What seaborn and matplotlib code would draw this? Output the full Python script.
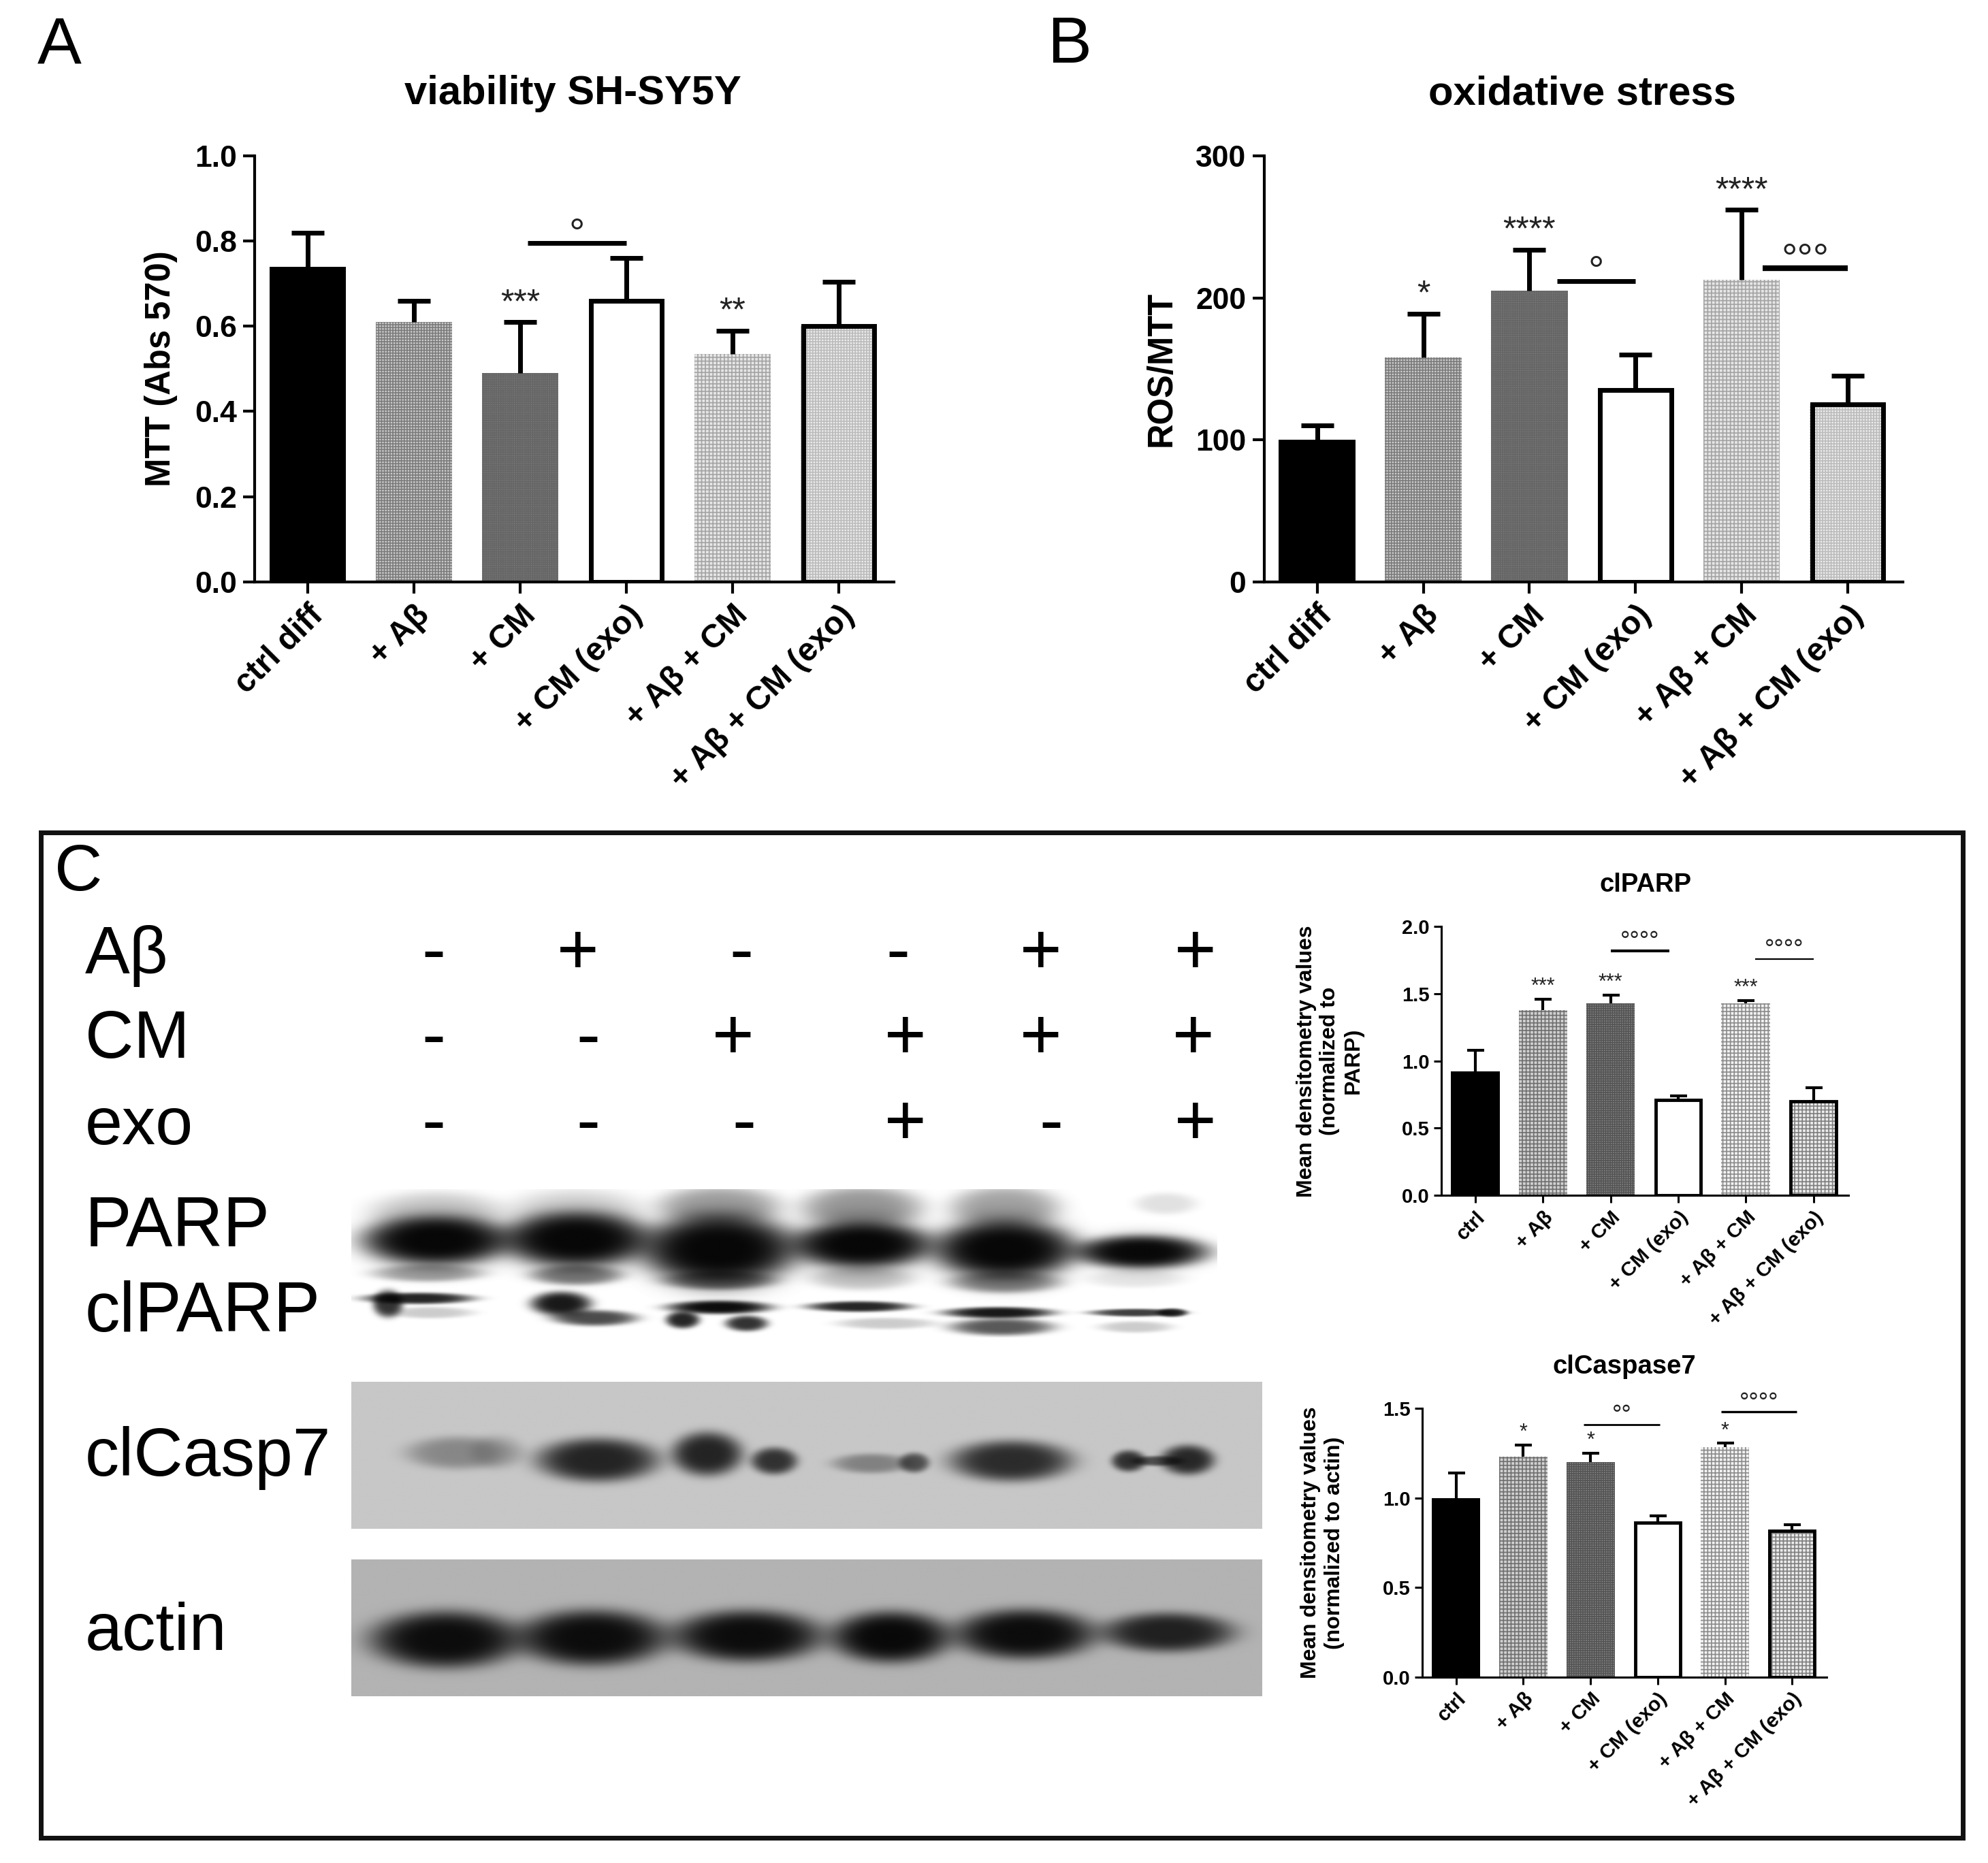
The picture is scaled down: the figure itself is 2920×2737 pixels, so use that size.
import numpy as np
import pandas as pd
import matplotlib
matplotlib.use("Agg")
import matplotlib.pyplot as plt
from matplotlib.patches import Rectangle
from matplotlib.lines import Line2D
from matplotlib.transforms import ScaledTranslation
import seaborn as sns

# Bar data
LABELS_DIFF = ["ctrl diff", "+ Aβ", "+ CM", "+ CM (exo)", "+ Aβ + CM", "+ Aβ + CM (exo)"]
LABELS_CTRL = ["ctrl", "+ Aβ", "+ CM", "+ CM (exo)", "+ Aβ + CM", "+ Aβ + CM (exo)"]

MTT_MEAN = [0.74, 0.61, 0.49, 0.66, 0.535, 0.60]
MTT_TOP = [0.82, 0.66, 0.61, 0.76, 0.59, 0.705]
MTT_STARS = ["", "", "***", "", "**", ""]

ROS_MEAN = [100, 158, 205, 135, 213, 125]
ROS_TOP = [110, 189, 234, 160, 262, 145]
ROS_STARS = ["", "*", "****", "", "****", ""]

PARP_MEAN = [0.92, 1.38, 1.43, 0.71, 1.43, 0.70]
PARP_TOP = [1.08, 1.46, 1.49, 0.74, 1.45, 0.80]
PARP_STARS = ["", "***", "***", "", "***", ""]

CASP_MEAN = [1.0, 1.23, 1.20, 0.86, 1.285, 0.815]
CASP_TOP = [1.14, 1.295, 1.25, 0.90, 1.305, 0.85]
CASP_STARS = ["", "*", "*", "", "*", ""]

# Blot bands: x, y, half width, half height, darkness (in blot pixels of the crop)
PARP_BLOT = [
    (140, 143, 118, 66, .96), (370, 140, 118, 74, .96), (605, 168, 124, 94, .96),
    (840, 155, 112, 62, .96), (1075, 168, 114, 78, .96), (1300, 175, 108, 46, .96),
    (140, 143, 125, 95, .30), (370, 140, 125, 105, .30), (605, 168, 130, 125, .30),
    (840, 155, 120, 95, .30), (1075, 168, 120, 110, .30), (1300, 175, 112, 65, .15),
    (140, 60, 110, 55, .18), (370, 50, 110, 55, .12), (605, 45, 100, 55, .35),
    (840, 50, 100, 60, .40), (1075, 50, 90, 60, .35), (1340, 40, 50, 30, .12),
    (125, 235, 90, 24, .35), (370, 240, 75, 28, .50), (605, 255, 90, 26, .50),
    (840, 250, 85, 32, .20), (1075, 260, 90, 30, .45), (1290, 250, 80, 25, .10),
    (110, 305, 90, 16, .85), (60, 320, 25, 38, .80), (130, 345, 70, 16, .20),
    (345, 320, 50, 34, .90), (400, 360, 70, 22, .70), (605, 330, 85, 19, .95),
    (545, 365, 28, 24, .85), (650, 375, 35, 22, .80), (835, 328, 85, 15, .85),
    (880, 375, 80, 16, .20), (1065, 345, 90, 16, .90), (1070, 385, 85, 24, .65),
    (1290, 345, 75, 11, .75), (1350, 345, 25, 12, .80), (1290, 385, 60, 16, .20),
]
CASP_BLOT = [
    (175, 202, 84, 46, .32), (240, 200, 44, 48, .15), (405, 222, 100, 62, .82),
    (585, 205, 58, 62, .82), (695, 225, 38, 38, .75), (855, 232, 64, 28, .35),
    (925, 230, 25, 28, .60), (1085, 225, 100, 58, .78), (1278, 225, 28, 30, .75),
    (1375, 222, 44, 42, .80), (1325, 225, 42, 14, .60),
]
ACTIN_BLOT = [
    (155, 225, 124, 80, .93), (395, 220, 124, 78, .93), (650, 215, 124, 72, .93),
    (885, 218, 98, 72, .95), (1105, 210, 116, 70, .93), (1340, 205, 108, 55, .82),
]

# +/- table over the blot
ROW_NAMES = ["Aβ", "CM", "exo"]
SIGNS = [["-", "+", "-", "-", "+", "+"],
         ["-", "-", "+", "+", "+", "+"],
         ["-", "-", "-", "+", "-", "+"]]

# Bar looks: fill, hatch, hatch colour, black outline
BAR_FILL = ["#000000", "#cccccc", "#858585", "#ffffff", "#e6e6e6", "#ececec"]
BAR_HATCH = ["", "++++", "++++++", "", "+++", "++++"]
BAR_HATCH_COLOR = ["#000000", "#7c7c7c", "#666666", "#ffffff", "#a4a4a4", "#bcbcbc"]
BAR_OUTLINE = [False, False, False, True, False, True]

SMALL_FILL = ["#000000", "#d0d0d0", "#8a8a8a", "#ffffff", "#f2f2f2", "#ebebeb"]
SMALL_HATCH = ["", "+++", "+++++", "", "+++", "+++"]
SMALL_HATCH_COLOR = ["#000000", "#707070", "#555555", "#ffffff", "#8c8c8c", "#808080"]

W, H = 2920, 2737
SCALE = 2920 / 1568  # layout numbers below are in the 1568 wide preview


def fx(v):
    return v * SCALE / W


def fy(v):
    return 1 - v * SCALE / H


def bar_panel(fig, box, labels, mean, top, stars, ymax, yticks, ytick_fmt, title, ylabel, brackets, sz, looks):
    left, right, ytop, ybot = box
    fills, hatches, hatch_colors = looks
    ax = fig.add_axes([fx(left), fy(ybot), fx(right) - fx(left), fy(ytop) - fy(ybot)])
    df = pd.DataFrame({"group": labels, "value": mean})
    sns.barplot(data=df, x="group", y="value", hue="group", palette=fills, saturation=1,
                width=0.72, errorbar=None, legend=False, ax=ax)
    centers = np.arange(len(labels))
    for i, p in enumerate(ax.patches[:len(labels)]):
        p.set_linewidth(0)
        p.set_edgecolor(hatch_colors[i])
        p.set_hatch(hatches[i])
        if BAR_OUTLINE[i]:
            # keep the stroke inside the bar width
            ax.add_patch(Rectangle((p.get_x() + 0.025, p.get_y()), p.get_width() - 0.05, p.get_height(),
                                   fill=False, ec="black", lw=sz["bar_lw"], zorder=3, joinstyle="miter"))
    mean_arr, top_arr = np.array(mean), np.array(top)
    err = ax.errorbar(centers, mean_arr, yerr=[np.zeros(len(mean)), top_arr - mean_arr], fmt="none",
                      ecolor="black", elinewidth=sz["err_lw"], capsize=sz["cap"], capthick=sz["err_lw"], zorder=2)
    err[1][0].set_visible(False)  # only the upper whisker has a cap
    for i, s in enumerate(stars):
        if s:
            ax.text(i, top[i] + ymax * sz["star_gap"], s, ha="center", va="center",
                    fontsize=sz["star"], color="#222222")
    for x0, x1, y, mark, lw in brackets:
        ax.add_line(Line2D([x0, x1], [y, y], color="black", lw=lw, solid_capstyle="butt"))
        ax.text((x0 + x1) / 2, y + ymax * sz["ring_gap"], mark, ha="center", va="center",
                fontsize=sz["ring"], color="#222222")
    ax.set_xlim(-0.5, 5.52)
    ax.set_ylim(0, ymax)
    ax.set_yticks(yticks)
    ax.set_yticklabels([ytick_fmt.format(t) for t in yticks], fontsize=sz["ytick"], fontweight="bold")
    ax.set_xticks(centers)
    ax.set_xticklabels(labels, rotation=45, ha="right", rotation_mode="anchor",
                       fontsize=sz["xtick"], fontweight="bold")
    shift = ScaledTranslation(sz["xtick_dx"] * SCALE / 100, 0, fig.dpi_scale_trans)
    for lab in ax.get_xticklabels():
        lab.set_transform(lab.get_transform() + shift)
    ax.set_xlabel("")
    ax.set_ylabel(ylabel, fontsize=sz["ylabel"], fontweight="bold", labelpad=sz["ypad"])
    ax.tick_params(length=sz["tick"], width=sz["axis_lw"], pad=sz["pad"])
    sns.despine(ax=ax)
    for side in ["left", "bottom"]:
        ax.spines[side].set_linewidth(sz["axis_lw"])
    fig.text(fx(sz["title_x"]), fy(sz["title_y"]), title, ha="center", va="center",
             fontsize=sz["title"], fontweight="bold")
    return ax


def draw_blot(fig, box, size, bands, bg):
    left, right, top, bottom = box
    ax = fig.add_axes([fx(left), fy(bottom), fx(right) - fx(left), fy(top) - fy(bottom)])
    xx, yy = np.meshgrid(np.arange(size[0]), np.arange(size[1]))
    img = np.full(xx.shape, bg, dtype=float)
    for cx, cy, wx, wy, amp in bands:
        d = ((xx - cx) / wx) ** 2 + ((yy - cy) / wy) ** 2
        img *= 1 - amp * np.exp(-d ** 2.2)
    ax.imshow(img, cmap="gray", vmin=0, vmax=1, aspect="auto", interpolation="bilinear")
    ax.axis("off")


def main():
    sns.set_theme(style="ticks", rc={"text.color": "black", "axes.labelcolor": "black",
                                     "xtick.color": "black", "ytick.color": "black",
                                     "axes.edgecolor": "black"})
    plt.rcParams["font.family"] = ["Liberation Sans", "DejaVu Sans"]
    plt.rcParams["hatch.linewidth"] = 1.2

    fig = plt.figure(figsize=(W / 100, H / 100), dpi=100, facecolor="white")

    big = dict(bar_lw=5, err_lw=5, cap=17, star=36, star_gap=0.043, ring=42, ring_gap=0.018,
               ytick=32, xtick=34.5, xtick_dx=-8, ylabel=36.5, ypad=18, tick=12, axis_lw=3, pad=7, title=43)
    small_p = dict(bar_lw=3.5, err_lw=3, cap=9, star=22, star_gap=0.045, ring=26, ring_gap=0.03,
                   ytick=21, xtick=21.5, xtick_dx=-2, ylabel=23, ypad=40, tick=8, axis_lw=2.2, pad=5, title=27.5)
    big_look = (BAR_FILL, BAR_HATCH, BAR_HATCH_COLOR)
    small_look = (SMALL_FILL, SMALL_HATCH, SMALL_HATCH_COLOR)

    bar_panel(fig, (201, 705, 123, 459), LABELS_DIFF, MTT_MEAN, MTT_TOP, MTT_STARS, 1.0,
              [0, .2, .4, .6, .8, 1.0], "{:.1f}", "viability SH-SY5Y", "MTT (Abs 570)",
              [(2.07, 3.0, 0.795, "°", 5)], dict(big, title_x=452, title_y=74), big_look)
    bar_panel(fig, (997, 1501, 123, 459), LABELS_DIFF, ROS_MEAN, ROS_TOP, ROS_STARS, 300,
              [0, 100, 200, 300], "{:.0f}", "oxidative stress", "ROS/MTT",
              [(2.26, 3.0, 212, "°", 5), (4.2, 5.0, 221, "°°°", 6)], dict(big, title_x=1248, title_y=74), big_look)

    # panel C frame
    fig.add_artist(Rectangle((fx(32), fy(1450)), fx(1548) - fx(32), fy(657) - fy(1450), fill=False,
                             ec="#111111", lw=5, transform=fig.transFigure))

    bar_panel(fig, (1137, 1458, 731, 943), LABELS_CTRL, PARP_MEAN, PARP_TOP, PARP_STARS, 2.0,
              [0, .5, 1.0, 1.5, 2.0], "{:.1f}", "clPARP", "Mean densitometry values\n(normalized to\nPARP)",
              [(2.0, 2.87, 1.82, "°°°°", 3), (4.14, 5.0, 1.76, "°°°°", 1.6)],
              dict(small_p, title_x=1298, title_y=698), small_look)
    bar_panel(fig, (1122, 1441, 1111, 1323), LABELS_CTRL, CASP_MEAN, CASP_TOP, CASP_STARS, 1.5,
              [0, .5, 1.0, 1.5], "{:.1f}", "clCaspase7", "Mean densitometry values\n(normalized to actin)",
              [(1.9, 3.03, 1.41, "°°", 2), (3.94, 5.07, 1.48, "°°°°", 2.4)],
              dict(small_p, title_x=1281, title_y=1078), small_look)

    # blots
    draw_blot(fig, (277, 960, 938, 1055), (1425, 415), PARP_BLOT, 1.0)
    draw_blot(fig, (277, 995, 1090, 1206), (1498, 417), CASP_BLOT, 0.78)
    draw_blot(fig, (277, 995, 1230, 1338), (1495, 384), ACTIN_BLOT, 0.70)

    # panel letters
    for letter, x, y in [("A", 47, 36), ("B", 844, 36), ("C", 62, 689)]:
        fig.text(fx(x), fy(y), letter, ha="center", va="center", fontsize=70)

    # blot row names
    for name, y in zip(ROW_NAMES, [754, 821, 889]):
        fig.text(fx(67), fy(y), name, ha="left", va="center", fontsize=71)
    for name, y, size in [("PARP", 969, 74), ("clPARP", 1036, 74), ("clCasp7", 1150, 72), ("actin", 1288, 71)]:
        fig.text(fx(67), fy(y), name, ha="left", va="center", fontsize=size)

    sign_x = [[342, 456, 585, 708, 821, 943],
              [342, 464, 578, 714, 821, 941],
              [342, 464, 587, 714, 829, 943]]
    for row, y, xs in zip(SIGNS, [753, 820, 888], sign_x):
        for s, x in zip(row, xs):
            fig.text(fx(x), fy(y), s, ha="center", va="center", fontsize=76)

    fig.savefig("out.png", dpi=100, facecolor="white")


if __name__ == "__main__":
    main()
